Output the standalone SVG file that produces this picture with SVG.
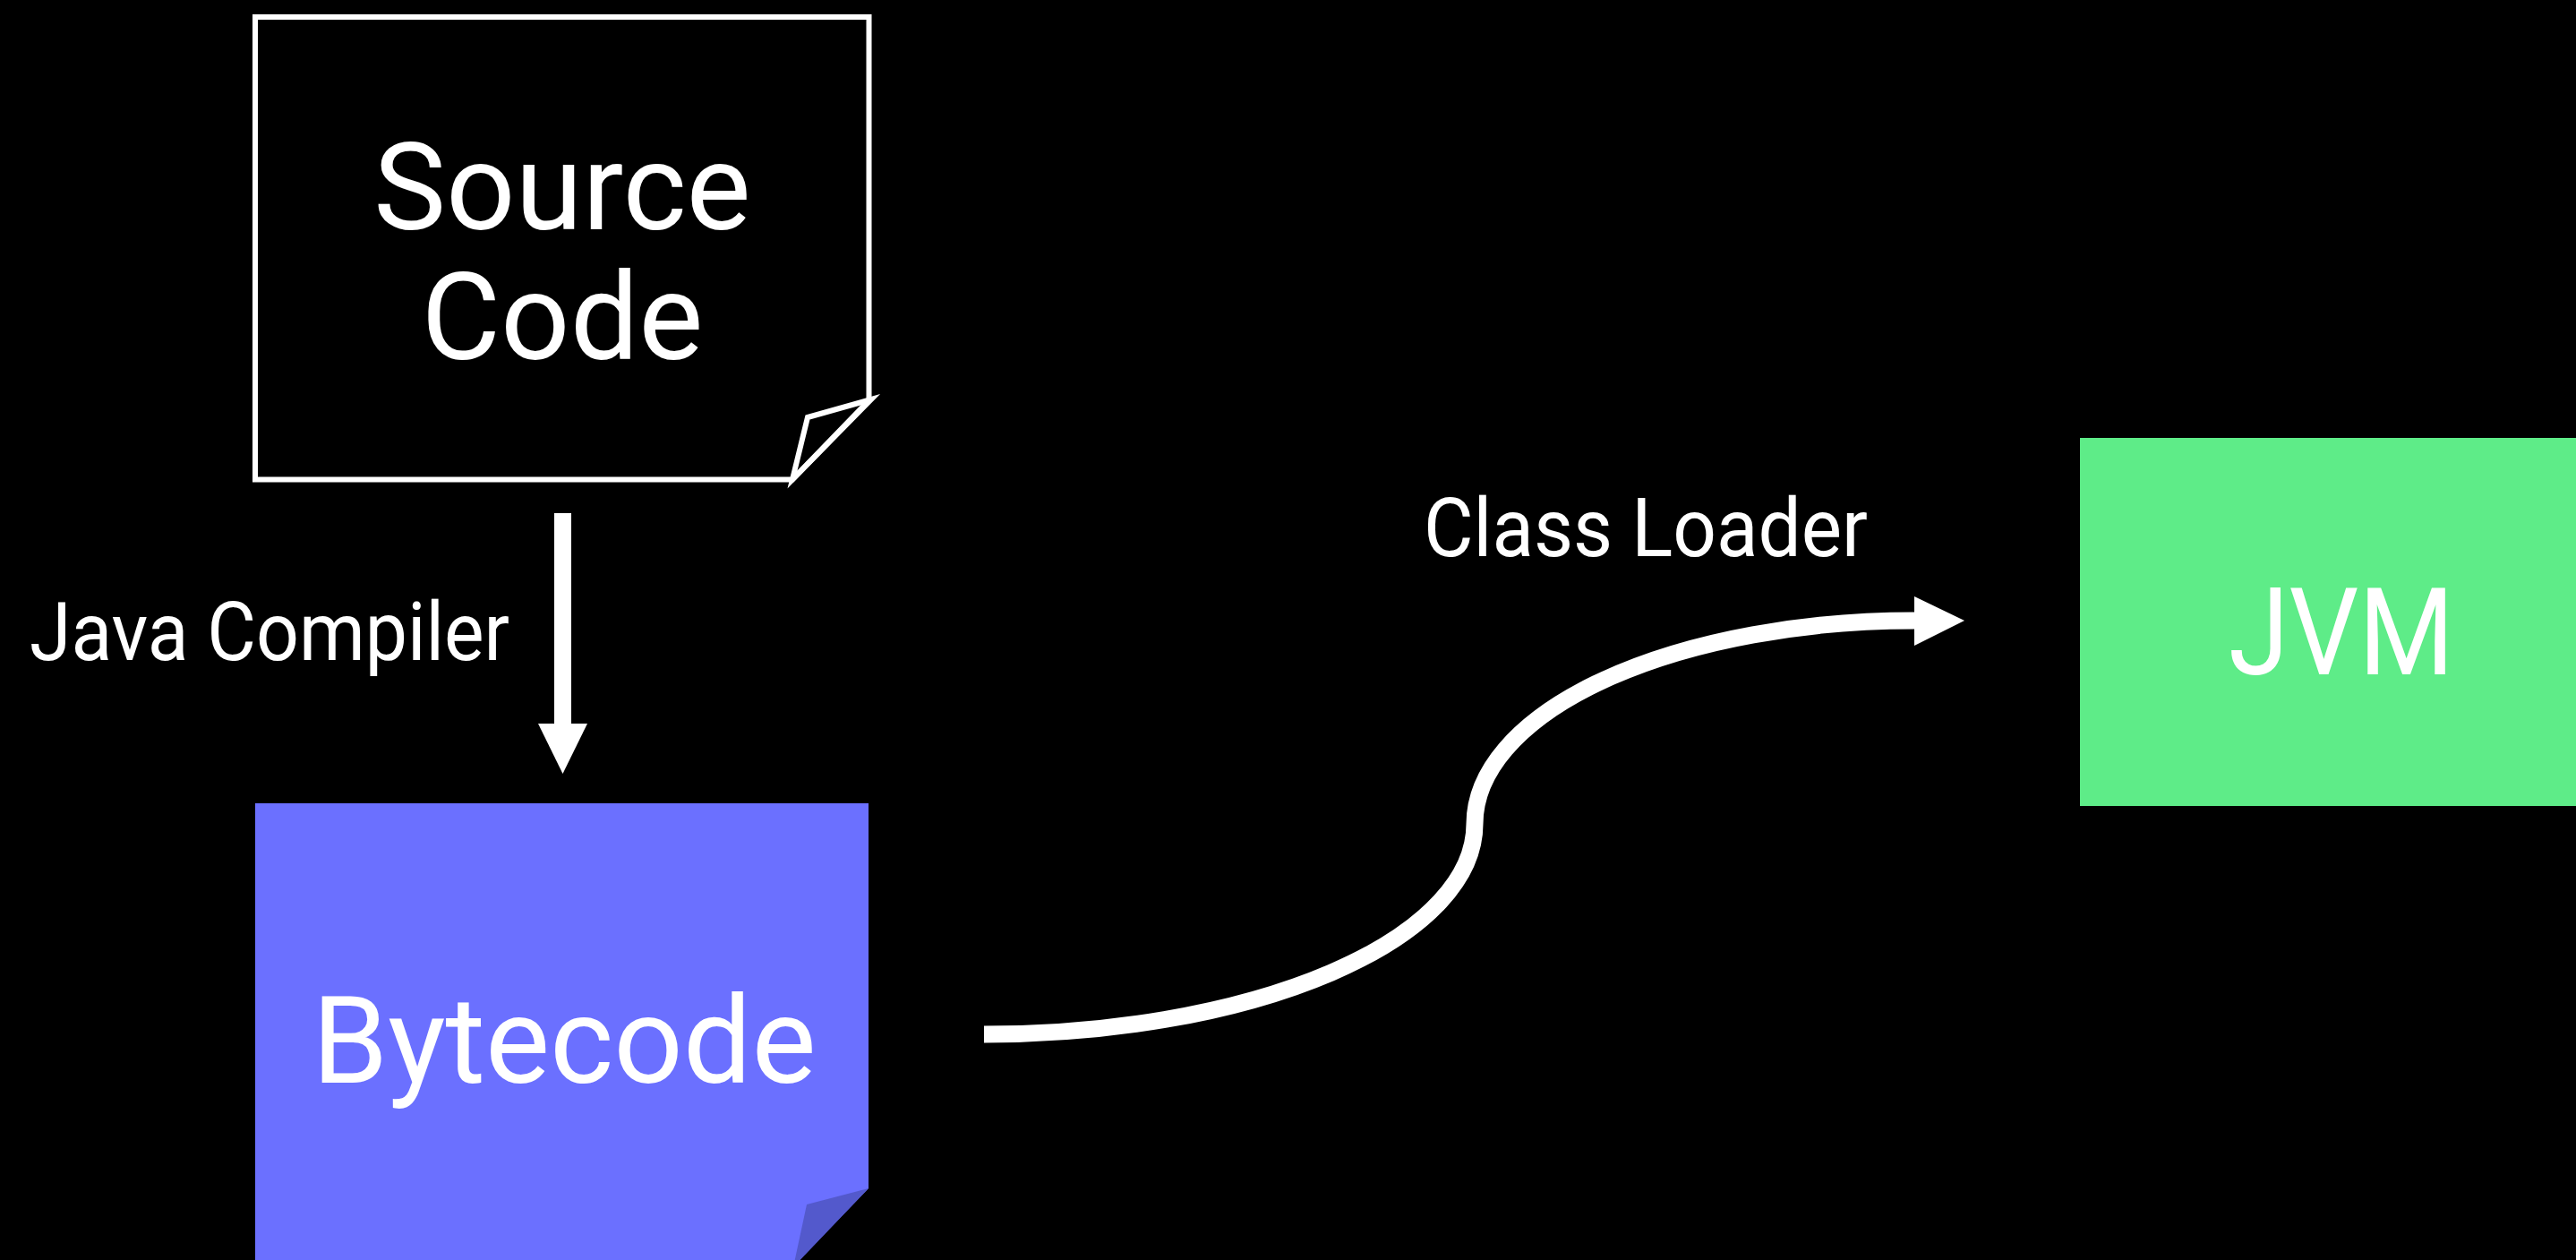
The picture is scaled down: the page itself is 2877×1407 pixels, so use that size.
<svg xmlns="http://www.w3.org/2000/svg" width="2877" height="1407" viewBox="0 0 2877 1407">
  <style>
    .label { font-family: Roboto, "Liberation Sans", sans-serif; fill: #ffffff; }
    .big { font-size: 136px; text-anchor: middle; }
    .small { font-size: 90px; text-anchor: middle; }
    .wire { fill: none; stroke: #ffffff; stroke-width: 19; stroke-linecap: butt; }
    .head { fill: #ffffff; stroke: none; }
  </style>
  <rect x="0" y="0" width="2877" height="1407" fill="#000000"/>

  <!-- Source file: outlined sheet with a curled corner -->
  <g id="source-code">
    <path d="M285,19 H970.5 V447 L885,535.5 H285 Z" fill="none" stroke="#ffffff" stroke-width="6" stroke-linejoin="miter"/>
    <path d="M885,535.5 L902,466 L973,446 Z" fill="none" stroke="#ffffff" stroke-width="6" stroke-linejoin="miter"/>
    <text class="label big" x="628" y="256">Source</text>
    <text class="label big" x="628" y="401">Code</text>
  </g>

  <!-- Bytecode file: filled sheet with a shaded corner -->
  <g id="bytecode">
    <path d="M285,897 H970 V1327 L885,1415 H285 Z" fill="#6B70FF"/>
    <path d="M886,1415 L901,1345 L970,1327 Z" fill="#5359CC"/>
    <text class="label big" x="630" y="1209" textLength="563" lengthAdjust="spacing">Bytecode</text>
  </g>

  <!-- Runtime -->
  <g id="jvm">
    <rect x="2323" y="489" width="554" height="411" fill="#5EEC88"/>
    <text class="label big" x="2615" y="753" textLength="252" lengthAdjust="spacingAndGlyphs">JVM</text>
  </g>

  <!-- Connectors -->
  <g id="connectors">
    <g id="java-compiler">
      <line class="wire" x1="628.5" y1="573" x2="628.5" y2="809"/>
      <polygon class="head" points="601,808 656,808 628.5,864"/>
      <text class="label small" x="301" y="737" textLength="536" lengthAdjust="spacingAndGlyphs">Java Compiler</text>
    </g>
    <g id="class-loader">
      <path class="wire" d="M1099,1155 A548,235 0 0 0 1647,920 A491,227 0 0 1 2139,693"/>
      <polygon class="head" points="2138,666 2194,693 2138,721"/>
      <text class="label small" x="1838" y="621" textLength="496" lengthAdjust="spacingAndGlyphs">Class Loader</text>
    </g>
  </g>
</svg>
